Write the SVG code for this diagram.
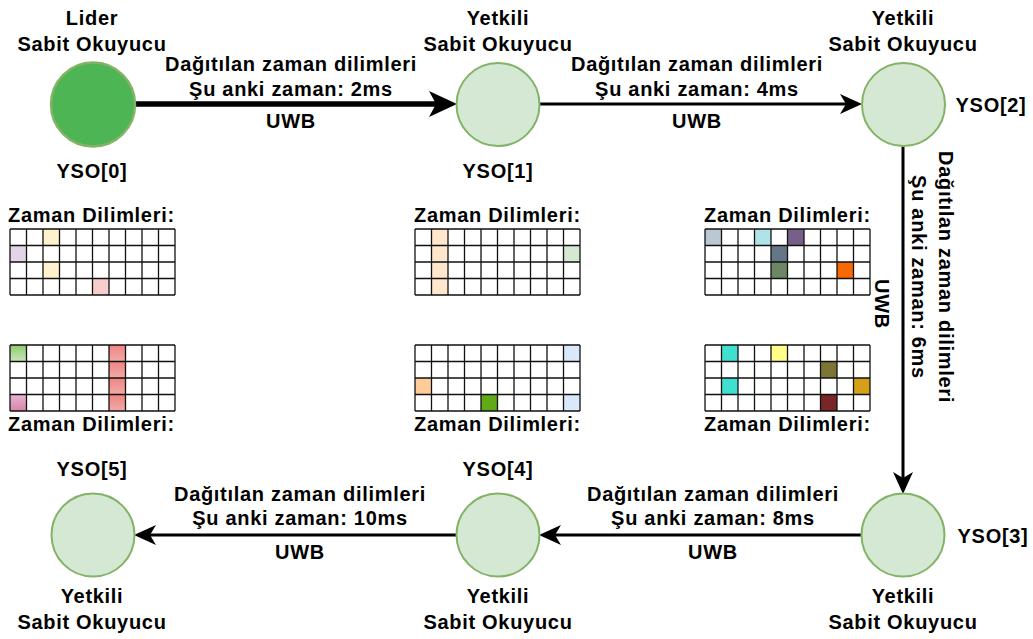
<svg xmlns="http://www.w3.org/2000/svg" width="1033" height="639" viewBox="0 0 1033 639">
  <defs>
    <style>
      .t { font-family: "Liberation Sans", Arial, Helvetica, sans-serif; font-weight: bold; font-size: 20px; letter-spacing: 0.7px; fill: #000; }
      .c { text-anchor: middle; }
      .node { fill: #d5e8d4; stroke: #82b366; stroke-width: 2; }
      .lead { fill: #4db553; stroke: #82b366; stroke-width: 2.5; }
      .wire { fill: none; stroke: #000; stroke-width: 3; }
      .wire-bold { fill: none; stroke: #000; stroke-width: 5.5; }
      .head { fill: #000; stroke: none; }
      .gridlines { fill: none; stroke: #111; stroke-width: 1.3; }
    </style>
    <linearGradient id="gGreen" x1="0" y1="0" x2="0" y2="1">
      <stop offset="0" stop-color="#8fcb6e"/>
      <stop offset="1" stop-color="#c7e6b8"/>
    </linearGradient>
    <linearGradient id="gRed" x1="0" y1="0" x2="0" y2="1">
      <stop offset="0" stop-color="#ee8582"/>
      <stop offset="1" stop-color="#f3aaa7"/>
    </linearGradient>
    <linearGradient id="gPink" x1="0" y1="0" x2="0" y2="1">
      <stop offset="0" stop-color="#e6b7d0"/>
      <stop offset="1" stop-color="#d883ab"/>
    </linearGradient>
    <!-- 10 x 4 slot grid, 16.5 px cells -->
    <path id="grid" class="gridlines" d="M0,0H165M0,16.5H165M0,33H165M0,49.5H165M0,66H165M0,0V66M16.5,0V66M33,0V66M49.5,0V66M66,0V66M82.5,0V66M99,0V66M115.5,0V66M132,0V66M148.5,0V66M165,0V66"/>
  </defs>

  <rect width="1033" height="639" fill="#fff"/>

  <!-- connectors -->
  <g id="connectors">
    <line class="wire-bold" x1="135" y1="104" x2="436" y2="104"/>
    <polygon class="head" points="457,104 429,91 436,104 429,117"/>

    <line class="wire" x1="540" y1="104" x2="846" y2="104"/>
    <polygon class="head" points="862,104 840,94 846,104 840,114"/>

    <line class="wire" x1="903" y1="146" x2="903" y2="478"/>
    <polygon class="head" points="903,494 893,472 903,478 913,472"/>

    <line class="wire" x1="861" y1="535" x2="555" y2="535"/>
    <polygon class="head" points="539,535 561,525 555,535 561,545"/>

    <line class="wire" x1="456" y1="535" x2="150" y2="535"/>
    <polygon class="head" points="134,535 156,525 150,535 156,545"/>

    <!-- connector labels -->
    <g class="t c">
      <text x="291" y="71">Dağıtılan zaman dilimleri</text>
      <text x="291" y="96">Şu anki zaman: 2ms</text>
      <text x="291" y="128">UWB</text>

      <text x="697" y="71">Dağıtılan zaman dilimleri</text>
      <text x="697" y="96">Şu anki zaman: 4ms</text>
      <text x="697" y="128">UWB</text>

      <text x="713" y="501">Dağıtılan zaman dilimleri</text>
      <text x="713" y="525">Şu anki zaman: 8ms</text>
      <text x="713" y="559">UWB</text>

      <text x="300" y="501">Dağıtılan zaman dilimleri</text>
      <text x="300" y="525">Şu anki zaman: 10ms</text>
      <text x="300" y="559">UWB</text>

      <text transform="translate(939,277) rotate(90)">Dağıtılan zaman dilimleri</text>
      <text transform="translate(912,277) rotate(90)">Şu anki zaman: 6ms</text>
      <text transform="translate(875,304) rotate(90)">UWB</text>
    </g>
  </g>

  <!-- readers -->
  <g id="yso0">
    <circle class="lead" cx="93" cy="104.5" r="42"/>
    <text class="t c" x="92" y="25">Lider</text>
    <text class="t c" x="92" y="51">Sabit Okuyucu</text>
    <text class="t c" x="92" y="178">YSO[0]</text>
  </g>
  <g id="yso1">
    <circle class="node" cx="498" cy="104.5" r="41.5"/>
    <text class="t c" x="498" y="25">Yetkili</text>
    <text class="t c" x="498" y="51">Sabit Okuyucu</text>
    <text class="t c" x="498" y="178">YSO[1]</text>
  </g>
  <g id="yso2">
    <circle class="node" cx="903.5" cy="104.5" r="41.5"/>
    <text class="t c" x="903" y="25">Yetkili</text>
    <text class="t c" x="903" y="51">Sabit Okuyucu</text>
    <text class="t c" x="991" y="112">YSO[2]</text>
  </g>
  <g id="yso3">
    <circle class="node" cx="903" cy="535" r="41.5"/>
    <text class="t c" x="993" y="543">YSO[3]</text>
    <text class="t c" x="903" y="603">Yetkili</text>
    <text class="t c" x="903" y="629">Sabit Okuyucu</text>
  </g>
  <g id="yso4">
    <circle class="node" cx="498" cy="535" r="41.5"/>
    <text class="t c" x="498" y="476">YSO[4]</text>
    <text class="t c" x="498" y="603">Yetkili</text>
    <text class="t c" x="498" y="629">Sabit Okuyucu</text>
  </g>
  <g id="yso5">
    <circle class="node" cx="93" cy="535" r="41.5"/>
    <text class="t c" x="92" y="476">YSO[5]</text>
    <text class="t c" x="92" y="603">Yetkili</text>
    <text class="t c" x="92" y="629">Sabit Okuyucu</text>
  </g>

  <!-- slot tables -->
  <g id="slots-yso0">
    <text class="t" x="8" y="222">Zaman Dilimleri:</text>
    <rect x="43" y="229" width="16.5" height="16.5" fill="#fff2cc"/>
    <rect x="10" y="245.5" width="16.5" height="16.5" fill="#e1d5e7"/>
    <rect x="43" y="262" width="16.5" height="16.5" fill="#fff2cc"/>
    <rect x="92.5" y="278.5" width="16.5" height="16.5" fill="#f8cecc"/>
    <use href="#grid" x="10" y="229"/>
  </g>
  <g id="slots-yso1">
    <text class="t" x="414" y="222">Zaman Dilimleri:</text>
    <rect x="431.5" y="229" width="16.5" height="66" fill="#ffe6cc"/>
    <rect x="563.5" y="245.5" width="16.5" height="16.5" fill="#d5e8d4"/>
    <use href="#grid" x="415" y="229"/>
  </g>
  <g id="slots-yso2">
    <text class="t" x="704" y="222">Zaman Dilimleri:</text>
    <rect x="705" y="229" width="16.5" height="16.5" fill="#bac8d3"/>
    <rect x="754.5" y="229" width="16.5" height="16.5" fill="#b0e3e6"/>
    <rect x="787.5" y="229" width="16.5" height="16.5" fill="#76608a"/>
    <rect x="771" y="245.5" width="16.5" height="16.5" fill="#647687"/>
    <rect x="771" y="262" width="16.5" height="16.5" fill="#6d8764"/>
    <rect x="837" y="262" width="16.5" height="16.5" fill="#fa6800"/>
    <use href="#grid" x="705" y="229"/>
  </g>
  <g id="slots-yso5">
    <rect x="10" y="345" width="16.5" height="16.5" fill="url(#gGreen)"/>
    <rect x="109" y="345" width="16.5" height="16.5" fill="url(#gRed)"/>
    <rect x="109" y="361.5" width="16.5" height="16.5" fill="url(#gRed)"/>
    <rect x="109" y="378" width="16.5" height="16.5" fill="url(#gRed)"/>
    <rect x="109" y="394.5" width="16.5" height="16.5" fill="url(#gRed)"/>
    <rect x="10" y="394.5" width="16.5" height="16.5" fill="url(#gPink)"/>
    <use href="#grid" x="10" y="345"/>
    <text class="t" x="8" y="431">Zaman Dilimleri:</text>
  </g>
  <g id="slots-yso4">
    <rect x="563.5" y="345" width="16.5" height="16.5" fill="#dae8fc"/>
    <rect x="415" y="378" width="16.5" height="16.5" fill="#ffcc99"/>
    <rect x="481" y="394.5" width="16.5" height="16.5" fill="#60a917"/>
    <rect x="563.5" y="394.5" width="16.5" height="16.5" fill="#dae8fc"/>
    <use href="#grid" x="415" y="345"/>
    <text class="t" x="414" y="431">Zaman Dilimleri:</text>
  </g>
  <g id="slots-yso3">
    <rect x="721.5" y="345" width="16.5" height="16.5" fill="#40e0d0"/>
    <rect x="771" y="345" width="16.5" height="16.5" fill="#ffff88"/>
    <rect x="820.5" y="361.5" width="16.5" height="16.5" fill="#7d7536"/>
    <rect x="721.5" y="378" width="16.5" height="16.5" fill="#40e0d0"/>
    <rect x="853.5" y="378" width="16.5" height="16.5" fill="#d4a019"/>
    <rect x="820.5" y="394.5" width="16.5" height="16.5" fill="#7a2626"/>
    <use href="#grid" x="705" y="345"/>
    <text class="t" x="704" y="431">Zaman Dilimleri:</text>
  </g>
</svg>
